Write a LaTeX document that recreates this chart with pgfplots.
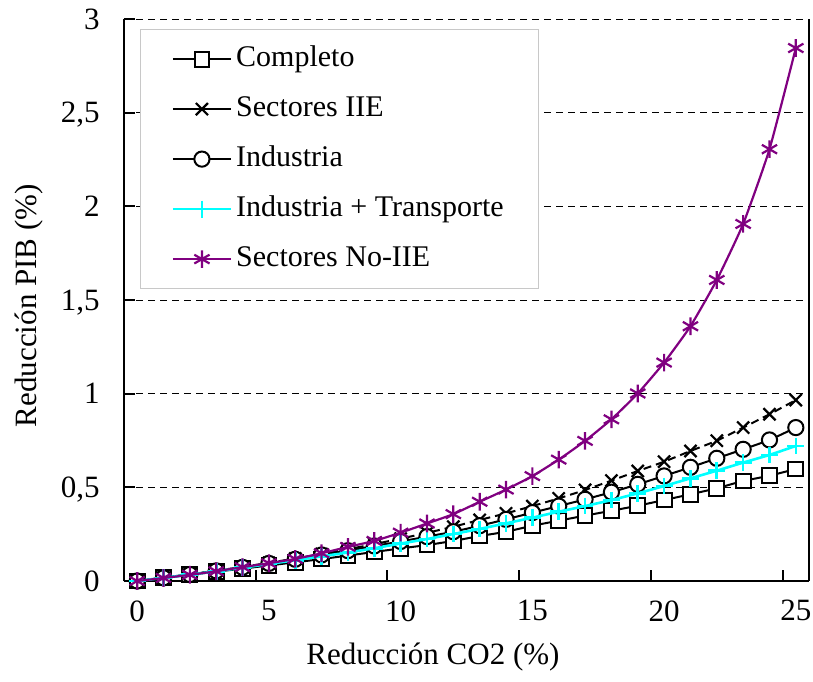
\documentclass[border=0pt]{standalone}
\usepackage{fontspec}
\setmainfont{Liberation Serif}
\usepackage{pgfplots}
\pgfplotsset{compat=1.18}
\usepackage{pgfplotstable}
\definecolor{mypurple}{RGB}{128,0,128}
\definecolor{mycyan}{RGB}{0,255,255}
\definecolor{leggray}{RGB}{200,200,200}
\pgfplotstableread{
x C S I T N
0 0 0 0 0 0
1 0.017 0.018 0.017 0.017 0.016
2 0.033 0.036 0.035 0.034 0.033
3 0.050 0.055 0.054 0.052 0.052
4 0.066 0.075 0.073 0.071 0.074
5 0.083 0.097 0.094 0.091 0.095
6 0.100 0.120 0.116 0.111 0.118
7 0.117 0.144 0.139 0.132 0.148
8 0.136 0.170 0.162 0.152 0.182
9 0.155 0.197 0.187 0.175 0.214
10 0.174 0.226 0.211 0.200 0.258
11 0.192 0.257 0.237 0.224 0.307
12 0.214 0.290 0.263 0.251 0.357
13 0.240 0.326 0.295 0.278 0.423
14 0.263 0.361 0.329 0.308 0.488
15 0.295 0.400 0.365 0.338 0.560
16 0.322 0.441 0.400 0.370 0.648
17 0.349 0.486 0.436 0.400 0.748
18 0.375 0.536 0.474 0.432 0.863
19 0.402 0.587 0.516 0.468 1.001
20 0.432 0.637 0.561 0.507 1.166
21 0.463 0.694 0.607 0.548 1.360
22 0.495 0.749 0.655 0.589 1.607
23 0.534 0.819 0.703 0.632 1.906
24 0.562 0.890 0.753 0.673 2.305
25 0.598 0.966 0.819 0.721 2.845
}\datatable
\begin{document}
\begin{tikzpicture}
\begin{axis}[
  scale only axis,
  width=342.5pt, height=281pt,
  xmin=-0.5, xmax=25.5,
  ymin=0, ymax=3,
  separate axis lines,
  axis x line*=bottom,
  axis y line*=left,
  axis line style={-, line width=1pt, black},
  tick align=inside,
  major tick length=5.5pt,
  tick style={line width=1pt, black},
  xtick={4.5,9.5,14.5,19.5,24.5},
  xticklabels={{},{},{},{},{}},
  extra x ticks={0,5,10,15,20,25},
  extra x tick labels={0,5,10,15,20,25},
  extra x tick style={major tick length=0pt},
  ytick={0,0.5,1,1.5,2,2.5,3},
  yticklabels={0,{0,5},1,{1,5},2,{2,5},3},
  ymajorgrids,
  major grid style={black, line width=0.5pt, dash pattern=on 3.5pt off 2.5pt},
  font=\fontsize{15.5}{18}\selectfont,
  ticklabel style={font=\fontsize{15.5}{18}\selectfont},
  xticklabel style={anchor=north, inner sep=0pt, yshift=-9.5pt, text depth=0pt},
  yticklabel style={anchor=east, inner sep=0pt, xshift=-12pt, text depth=0pt},
  every axis x label/.style={at={(axis description cs:0.451,-0.1352)}, anchor=center},
  every axis y label/.style={at={(axis description cs:-0.138,0.49)}, rotate=90, anchor=center},
  xlabel={Reducción CO2 (\%)},
  ylabel={Reducción PIB (\%)},
  clip mode=individual,
  legend style={at={(0.0234,0.9822)}, anchor=north west, draw=leggray, line width=0.6pt,
    font=\fontsize{15}{18}\selectfont, inner xsep=15.5pt, inner ysep=5.5pt, row sep=6.5pt,
    nodes={text height=11pt, text depth=3.5pt}},
  legend cell align=left,
  legend image code/.code={\draw[mark repeat=2,mark phase=2] plot coordinates {(0pt,0pt) (14.5pt,0pt) (29pt,0pt)};},
]
\addplot[black, line width=1pt, smooth, tension=0.3, mark=square*, mark size=3.7pt, mark options={fill=white, solid, line width=1pt}] table[x=x,y=C] {\datatable};
\addlegendentry{Completo}
\addplot[black, line width=1pt, smooth, tension=0.3, dash pattern=on 4pt off 2.5pt, mark=x, mark size=4.3pt, mark options={solid, line width=1.1pt}, legend image post style={solid}] table[x=x,y=S] {\datatable};
\addlegendentry{Sectores IIE}
\addplot[black, line width=1pt, smooth, tension=0.3, mark=*, mark size=3.8pt, mark options={fill=white, solid, line width=1pt}] table[x=x,y=I] {\datatable};
\addlegendentry{Industria}
\addplot[mycyan, line width=1.3pt, smooth, tension=0.3, mark=+, mark size=4.2pt, mark options={solid, line width=1.3pt}] table[x=x,y=T] {\datatable};
\addlegendentry{Industria + Transporte}
\addplot[mypurple, line width=1.1pt, smooth, tension=0.3, mark=asterisk, mark size=4.4pt, mark options={solid, line width=1.1pt}] table[x=x,y=N] {\datatable};
\addlegendentry{Sectores No-IIE}
\draw[black, line width=0.6pt] (rel axis cs:1,0) -- (rel axis cs:1,1);
\coordinate (bl) at (rel axis cs:0,0);
\coordinate (tr) at (rel axis cs:1,1);
\end{axis}
\pgfresetboundingbox
\path ([shift={(-62pt,-50pt)}]bl) rectangle ([shift={(2pt,9.5pt)}]tr);
\end{tikzpicture}
\end{document}
